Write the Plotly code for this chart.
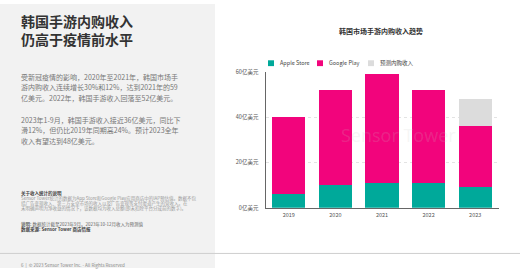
import plotly.graph_objects as go

years = ["2019", "2020", "2021", "2022", "2023"]
apple_store = [6, 10, 11, 11, 9]
google_play = [34, 42, 48, 41, 27]
forecast = [None, None, None, None, 12]
series_names = ["Apple Store", "Google Play", "预测内购收入"]
colors = ["#00a99a", "#f2047c", "#dcdcdc"]
y_ticks = [0, 20, 40, 60]
y_tick_labels = ["0亿美元", "20亿美元", "40亿美元", "60亿美元"]

FONT = "Noto Sans CJK SC"
W, H = 520, 272

def px(x):
    return x / W

def py(y):
    return 1 - y / H

fig = go.Figure()
for name, vals, col in zip(series_names, [apple_store, google_play, forecast], colors):
    fig.add_trace(go.Bar(x=years, y=vals, name=name, marker=dict(color=col, line=dict(width=0)),
                         showlegend=False))

fig.update_layout(
    width=W, height=H, margin=dict(l=0, r=0, t=0, b=0),
    paper_bgcolor="white", plot_bgcolor="rgba(0,0,0,0)",
    barmode="stack", bargap=0.29,
    font=dict(family=FONT, color="#555"),
    xaxis=dict(domain=[px(265.5), px(498.5)], showline=True, linecolor="#666", linewidth=1,
               tickfont=dict(size=5.5, color="#555"), ticks="", ticklabelstandoff=2,
               showgrid=False, zeroline=False),
    yaxis=dict(domain=[py(210), py(70)], range=[0, 60], tickmode="array", tickvals=y_ticks,
               ticktext=y_tick_labels,
               showline=True, linecolor="#666", linewidth=1, showgrid=True,
               gridcolor="#e3e3e3", gridwidth=1, griddash="dot", zeroline=False,
               tickfont=dict(size=5.5, color="#555"), ticklabelstandoff=5),
)

shapes = []
# left gray panel
shapes.append(dict(type="rect", xref="paper", yref="paper", x0=0, x1=px(215), y0=0, y1=1,
                   fillcolor="#f2f2f2", line=dict(width=0), layer="below"))
# bottom separator line
shapes.append(dict(type="line", xref="paper", yref="paper", x0=0, x1=1, y0=py(257), y1=py(257),
                   line=dict(color="#cfcfcf", width=1)))
# legend swatches
leg_x = [268, 317, 368]
for lx, col in zip(leg_x, colors):
    shapes.append(dict(type="rect", xref="paper", yref="paper", x0=px(lx), x1=px(lx + 6),
                       y0=py(64), y1=py(58), fillcolor=col, line=dict(width=0)))
fig.update_layout(shapes=shapes)

ann = []
def text(x, y, t, size, color, xanchor="left", bold=False):
    ann.append(dict(xref="paper", yref="paper", x=px(x), y=py(y), text=f"<b>{t}</b>" if bold else t,
                    showarrow=False, xanchor=xanchor, yanchor="middle", align="left",
                    font=dict(family=FONT, size=size, color=color)))

text(19, 26.8, "韩国手游内购收入<br>仍高于疫情前水平", 14, "#333333", bold=True)

para = [
    (75, "受新冠疫情的影响，2020年至2021年，韩国市场手"),
    (86, "游内购收入连续增长30%和12%，达到2021年的59"),
    (97, "亿美元。2022年，韩国手游收入回落至52亿美元。"),
    (119, "2023年1-9月，韩国手游收入接近36亿美元，同比下"),
    (130, "滑12%，但仍比2019年同期高24%。预计2023全年"),
    (141, "收入有望达到48亿美元。"),
]
for y, t in para:
    text(19, y, t, 7, "#777777")

text(19, 195.5, "关于收入统计的说明", 4.5, "#444444", bold=True)
notes = [
    (200.5, "Sensor Tower统计的数据为App Store和Google Play应用商店中的IAP预估值。数据不包"),
    (205.3, "括广告变现收入、第三方安卓市场的收入以及广告变现等支付渠道产生的营收入。在"),
    (210.2, "未明确声明为净收益的情况下，该数据均为收入总额(即未扣除平台分成前的数字)。"),
]
for y, t in notes:
    text(19, y, t, 4.5, "#999999")
text(19, 227.3, "<b>说明:</b> 数据统计截至2023年9月。2023年10-12月收入为预测值", 4.5, "#666666")
text(19, 232.3, "<b>数据来源: Sensor Tower 商店情报</b>", 4.5, "#444444")
text(19, 269.5, "6  |  © 2023 Sensor Tower Inc. - All Rights Reserved", 4.5, "#888888")

text(380.5, 28, "韩国市场手游内购收入趋势", 7, "#333333", xanchor="center", bold=True)
leg_tx = [278, 327, 378]
for lx, name in zip(leg_tx, series_names):
    text(lx, 61.2, name, 5.5, "#444444")

ann.append(dict(xref="paper", yref="paper", x=px(398), y=py(135), text="Sensor Tower",
                showarrow=False, xanchor="center", yanchor="middle",
                font=dict(family="Open Sans", size=18, color="rgba(200,200,200,0.18)")))
fig.update_layout(annotations=ann)

fig.write_html("out.html")
